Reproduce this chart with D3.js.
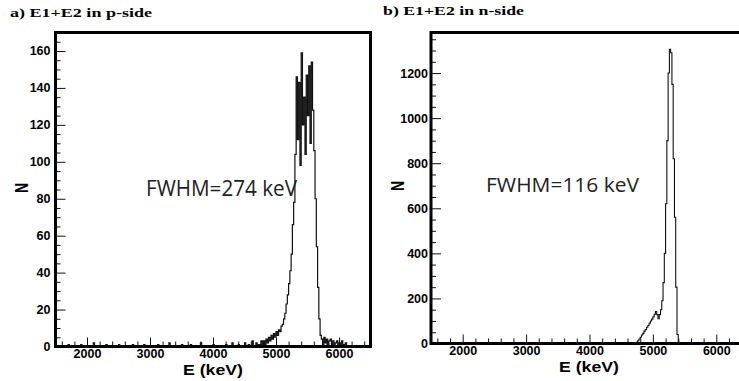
<!DOCTYPE html>
<html>
<head>
<meta charset="utf-8">
<script src="https://cdn.jsdelivr.net/npm/d3@7"></script>
<style>
	body { margin: 0; background: #fff; }
	svg { display: block; }
</style>
</head>
<body>
<div id="chart"></div>
<script>
// Shared energy axis (keV), 20 keV bins
const xDomain = [1500, 6500];
const binWidth = 20;
const xTicks = [2000, 3000, 4000, 5000, 6000];

// a) p-side
const pTitle = 'a) E1+E2 in p-side';
const pFwhm = 'FWHM=274 keV';
const pYMax = 170;
const pYTicks = [0, 20, 40, 60, 80, 100, 120, 140, 160];
const pPeakStart = 4800;
const pPeak = [
	3, 1, 4, 2, 5, 3, 6, 4, 7, 5,
	8, 6, 9, 8, 11, 12, 15, 18, 23, 28,
	34, 41, 50, 66, 78, 104, 146, 112, 143, 98,
	159, 120, 135, 104, 147, 125, 152, 110, 154, 128,
	106, 80, 54, 32, 15, 6, 4, 1, 5, 2,
	4, 1, 3, 4, 1, 3, 0, 2, 3, 1,
	2, 0, 3, 1, 0, 2
];
// sparse background counts below the peak: [energy, count]
const pSpikes = [
	[1700, 1], [1900, 1], [2100, 2], [2300, 1], [2500, 1], [2720, 1],
	[2900, 1], [3120, 1], [3300, 2], [3500, 1], [3640, 1], [3800, 2],
	[4000, 1], [4200, 1], [4300, 2], [4400, 1], [4500, 2], [4560, 1],
	[4620, 3], [4680, 2], [4720, 1], [4760, 3]
];

// b) n-side
const nTitle = 'b) E1+E2 in n-side';
const nFwhm = 'FWHM=116 keV';
const nYMax = 1380;
const nYTicks = [0, 200, 400, 600, 800, 1000, 1200];
const nPeakStart = 4720;
const nPeak = [
	2, 5, 12, 20, 28, 38, 45, 55, 62, 72,
	80, 90, 100, 108, 118, 130, 142, 128, 110, 128,
	150, 190, 270, 400, 620, 900, 1200, 1305, 1290, 1150,
	820, 560, 250, 40, 5, 0
];
const nSpikes = [];

const W = 739, H = 381;
const svg = d3.select('#chart').append('svg').attr('width', W).attr('height', H);

const buildBins = (peakStart, peak, spikes) => {
	const edges = d3.range(xDomain[0], xDomain[1], binWidth);
	const counts = edges.map(() => 0);
	const idx = (e) => Math.round((e - xDomain[0]) / binWidth);
	spikes.forEach(([e, n]) => { counts[idx(e)] = n; });
	peak.forEach((n, i) => { counts[idx(peakStart) + i] = n; });
	const pts = edges.map((e, i) => ({ e, n: counts[i] }));
	pts.push({ e: xDomain[1], n: 0 });
	return pts;
};

const drawPanel = (cfg) => {
	const x = d3.scaleLinear().domain(xDomain).range([cfg.left, cfg.right]);
	const y = d3.scaleLinear().domain([0, cfg.yMax]).range([cfg.bottom, cfg.top]);
	const g = svg.append('g');

	const clipId = 'clip-' + cfg.id;
	g.append('defs').append('clipPath').attr('id', clipId)
		.append('rect')
		.attr('x', cfg.left).attr('y', cfg.top)
		.attr('width', cfg.right - cfg.left).attr('height', cfg.bottom - cfg.top);

	// histogram as a step line
	const line = d3.line()
		.x((d) => x(d.e))
		.y((d) => y(d.n))
		.curve(d3.curveStepAfter);
	g.append('path')
		.datum(buildBins(cfg.peakStart, cfg.peak, cfg.spikes))
		.attr('clip-path', `url(#${clipId})`)
		.attr('d', line)
		.attr('fill', 'none')
		.attr('stroke', '#111')
		.attr('stroke-width', cfg.lineWidth);

	// x axis: ticks point inward (up), minor every 200 keV
	const xMinor = d3.range(1600, 6500, 200).filter((v) => !xTicks.includes(v));
	const xAxisMajor = d3.axisBottom(x).tickValues(xTicks).tickSize(-9).tickPadding(3)
		.tickFormat(d3.format('d'));
	const xAxisMinor = d3.axisBottom(x).tickValues(xMinor).tickSize(-5).tickFormat('');
	g.append('g').attr('transform', `translate(0,${cfg.bottom})`).call(xAxisMajor);
	g.append('g').attr('transform', `translate(0,${cfg.bottom})`).call(xAxisMinor);

	// y axis: ticks point inward (right)
	const yStep = cfg.yTicks[1] / 4;
	const yMinor = d3.range(yStep, cfg.yMax, yStep).filter((v) => !cfg.yTicks.includes(v));
	const yAxisMajor = d3.axisLeft(y).tickValues(cfg.yTicks).tickSize(-10)
		.tickFormat(d3.format('d'));
	const yAxisMinor = d3.axisLeft(y).tickValues(yMinor).tickSize(-5).tickFormat('');
	const gy = g.append('g').attr('transform', `translate(${cfg.left},0)`).call(yAxisMajor);
	g.append('g').attr('transform', `translate(${cfg.left},0)`).call(yAxisMinor);

	g.selectAll('.domain').remove();
	g.selectAll('.tick line').attr('stroke', '#111').attr('stroke-width', 1);
	g.selectAll('.tick text')
		.attr('font-family', '"Liberation Sans", Arial, sans-serif')
		.attr('font-weight', 'bold')
		.attr('font-size', 12.5)
		.attr('fill', '#000');
	gy.selectAll('.tick text').attr('x', -cfg.yLabelGap);

	// thick frame
	g.append('rect')
		.attr('x', cfg.left).attr('y', cfg.top)
		.attr('width', cfg.right - cfg.left).attr('height', cfg.bottom - cfg.top)
		.attr('fill', 'none')
		.attr('stroke', '#000')
		.attr('stroke-width', 3);

	// panel title
	g.append('text')
		.attr('x', cfg.titleX).attr('y', cfg.titleY)
		.attr('font-family', '"Liberation Serif", "Times New Roman", serif')
		.attr('font-weight', 'bold')
		.attr('font-size', 13.5)
		.attr('textLength', cfg.titleLen)
		.attr('lengthAdjust', 'spacingAndGlyphs')
		.text(cfg.title);

	// axis titles
	g.append('text')
		.attr('x', cfg.xTitleX - 30).attr('y', cfg.xTitleY)
		.attr('font-family', '"Liberation Sans", Arial, sans-serif')
		.attr('font-weight', 'bold')
		.attr('font-size', 15)
		.attr('textLength', 60)
		.attr('lengthAdjust', 'spacingAndGlyphs')
		.text('E (keV)');
	g.append('text')
		.attr('transform', `translate(${cfg.nX},${cfg.nY}) scale(1.3,1) rotate(-90)`)
		.attr('text-anchor', 'middle')
		.attr('font-family', '"Liberation Sans", Arial, sans-serif')
		.attr('font-weight', 'bold')
		.attr('font-size', 14)
		.text('N');

	// FWHM annotation
	g.append('text')
		.attr('x', cfg.fwhmX).attr('y', cfg.fwhmY)
		.attr('font-family', '"Open Sans", "Noto Sans", sans-serif')
		.attr('font-size', cfg.fwhmSize)
		.attr('fill', '#222')
		.attr('textLength', cfg.fwhmLen)
		.attr('lengthAdjust', 'spacingAndGlyphs')
		.text(cfg.fwhm);
};

drawPanel({
	id: 'p', title: pTitle, fwhm: pFwhm, yMax: pYMax, yTicks: pYTicks,
	peakStart: pPeakStart, peak: pPeak, spikes: pSpikes, lineWidth: 1.2,
	left: 55.5, right: 370.5, top: 32.5, bottom: 346.5, yLabelGap: 5,
	titleX: 10, titleY: 17, titleLen: 142,
	xTitleX: 213, xTitleY: 375, nX: 28, nY: 188,
	fwhmX: 146, fwhmY: 195.5, fwhmSize: 22, fwhmLen: 151
});

drawPanel({
	id: 'n', title: nTitle, fwhm: nFwhm, yMax: nYMax, yTicks: nYTicks,
	peakStart: nPeakStart, peak: nPeak, spikes: nSpikes, lineWidth: 1.1,
	left: 431, right: 748, top: 32.5, bottom: 343.5, yLabelGap: 3,
	titleX: 383, titleY: 14.5, titleLen: 141,
	xTitleX: 589, xTitleY: 372, nX: 404, nY: 186,
	fwhmX: 486, fwhmY: 191.5, fwhmSize: 20, fwhmLen: 153
});
</script>
</body>
</html>
